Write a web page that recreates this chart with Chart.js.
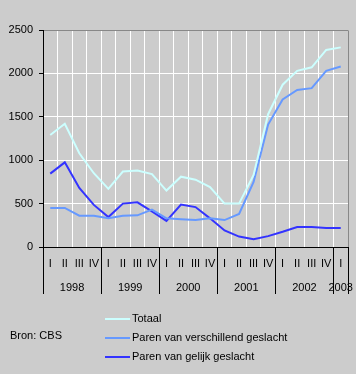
<!DOCTYPE html>
<html>
<head>
<meta charset="utf-8">
<script src="https://cdn.jsdelivr.net/npm/chart.js@4.4.0/dist/chart.umd.min.js"></script>
<style>
html,body{margin:0;padding:0;background:#cccccc;}
canvas{display:block;}
</style>
</head>
<body>
<canvas id="c" width="356" height="374"></canvas>
<script>
const quarters = ['I','II','III','IV','I','II','III','IV','I','II','III','IV','I','II','III','IV','I','II','III','IV','I'];
const years = ['1998','1999','2000','2001','2002','2003'];
const yearQuarterCounts = [4,4,4,4,4,1];
const totaal = [1290,1420,1080,850,670,870,880,840,650,810,775,690,500,500,830,1530,1870,2030,2070,2270,2300];
const verschillend = [450,450,360,360,330,360,365,430,330,320,310,330,310,380,750,1410,1700,1810,1830,2030,2080];
const gelijk = [845,975,680,485,345,500,515,410,300,490,460,330,190,120,90,125,175,230,230,220,220];
const seriesNames = ['Totaal','Paren van verschillend geslacht','Paren van gelijk geslacht'];
const yTicks = [0,500,1000,1500,2000,2500];
const sourceText = 'Bron: CBS';

const FONT = '11px "Liberation Sans", Arial, sans-serif';
const colors = ['#ccffff','#6699ff','#3333ff'];

const decor = {
  id:'decor',
  afterDraw(chart){
    const ctx = chart.ctx, a = chart.chartArea, xs = chart.scales.x;
    ctx.save();
    ctx.strokeStyle = '#888888'; ctx.lineWidth = 1;
    ctx.beginPath();
    ctx.moveTo(a.left, a.top+0.5); ctx.lineTo(a.right+0.5, a.top+0.5); ctx.lineTo(a.right+0.5, a.bottom);
    ctx.stroke();
    ctx.strokeStyle = '#000'; ctx.beginPath();
    ctx.moveTo(a.left+0.5, a.top); ctx.lineTo(a.left+0.5, a.bottom+0.5); ctx.lineTo(a.right+1, a.bottom+0.5);
    ctx.stroke();
    const half = (xs.getPixelForValue(1) - xs.getPixelForValue(0))/2;
    ctx.fillStyle = '#000'; ctx.font = FONT; ctx.textAlign='center'; ctx.textBaseline='middle';
    let s = 0;
    const bounds = [];
    years.forEach((y,i)=>{
      const n = yearQuarterCounts[i];
      const cx = (xs.getPixelForValue(s) + xs.getPixelForValue(s+n-1))/2;
      ctx.fillText(y, cx, 288);
      bounds.push(xs.getPixelForValue(s) - half);
      s += n;
    });
    bounds.push(xs.getPixelForValue(s-1) + half);
    ctx.beginPath();
    bounds.forEach(b=>{ const x = Math.round(b)+0.5; ctx.moveTo(x, a.bottom); ctx.lineTo(x, 294); });
    ctx.stroke();
    ctx.textAlign='left';
    const rows = [319, 338, 357];
    seriesNames.forEach((nm,i)=>{
      ctx.strokeStyle = colors[i]; ctx.lineWidth = 2;
      ctx.beginPath(); ctx.moveTo(105, rows[i]); ctx.lineTo(130, rows[i]); ctx.stroke();
      ctx.fillText(nm, 132, rows[i]);
    });
    ctx.fillText(sourceText, 10, 336);
    ctx.restore();
  }
};

new Chart(document.getElementById('c'), {
  type:'line',
  data:{
    labels: quarters,
    datasets:[
      {label:seriesNames[0], data:totaal, borderColor:colors[0], backgroundColor:colors[0]},
      {label:seriesNames[1], data:verschillend, borderColor:colors[1], backgroundColor:colors[1]},
      {label:seriesNames[2], data:gelijk, borderColor:colors[2], backgroundColor:colors[2]}
    ]
  },
  options:{
    responsive:false, animation:false,
    layout:{padding:{top:30,right:8,left:0,bottom:0}},
    elements:{line:{borderWidth:2,tension:0}, point:{radius:0}},
    plugins:{legend:{display:false}, tooltip:{enabled:false}},
    scales:{
      x:{
        offset:true,
        grid:{offset:true, color:'#ffffff', lineWidth:1, drawTicks:false},
        border:{display:false},
        ticks:{color:'#000', font:{family:'"Liberation Sans", Arial, sans-serif', size:11}, padding:10, maxRotation:0, autoSkip:false},
        afterFit(s){ s.height = 127; }
      },
      y:{
        min:0, max:2500,
        afterBuildTicks(s){ s.ticks = yTicks.map(v=>({value:v})); },
        grid:{color:'#ffffff', lineWidth:1, tickColor:'#000', tickLength:4},
        border:{display:false},
        ticks:{color:'#000', font:{family:'"Liberation Sans", Arial, sans-serif', size:11}, padding:6, callback:(v)=>String(v)},
        afterFit(s){ s.width = 43; }
      }
    }
  },
  plugins:[decor]
});
</script>
</body>
</html>
